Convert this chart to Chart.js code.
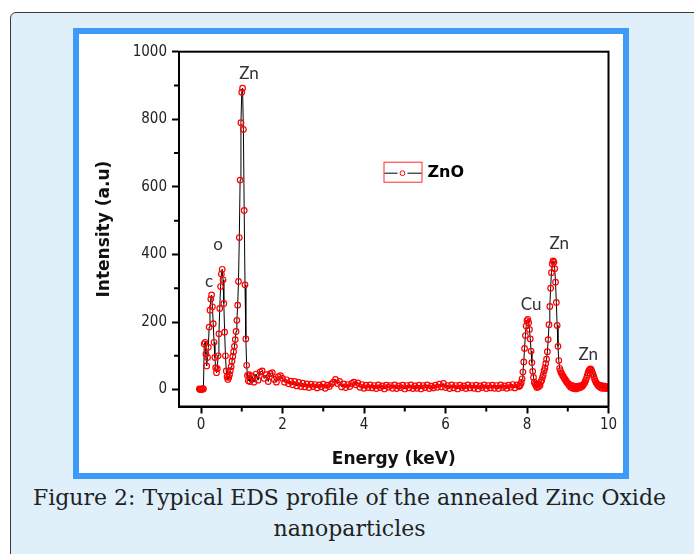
<!DOCTYPE html>
<html>
<head>
<meta charset="utf-8">
<script src="https://cdn.jsdelivr.net/npm/chart.js@4.4.0/dist/chart.umd.min.js"></script>
<style>
  html, body { margin: 0; padding: 0; width: 694px; height: 554px; overflow: hidden; background: #fff; }
  #panel { position: absolute; left: 10px; top: 12px; width: 720px; height: 580px; background: #dff0fb; border: 1.5px solid #3a3a3a; border-radius: 6px; }
  #frame { position: absolute; left: 73px; top: 28px; width: 544px; height: 439px; border: 6px solid #3d9bf7; background: #fff; }
  #frame canvas { display: block; }
  #caption { position: absolute; left: 0; top: 482px; width: 699px; text-align: center; font-family: "DejaVu Serif", serif; font-size: 22px; line-height: 31px; color: #222; }
</style>
</head>
<body>
<div id="panel"></div>
<div id="frame"><canvas id="eds" width="544" height="439"></canvas></div>
<div id="caption">Figure 2: Typical EDS profile of the annealed Zinc Oxide<br>nanoparticles</div>
<script>
// C, O and Zn L region
const energyLow = [-0.04, -0.02, 0.00, 0.02, 0.04, 0.06, 0.08, 0.10, 0.12, 0.14, 0.16, 0.18, 0.20, 0.22, 0.24, 0.26, 0.28, 0.30, 0.32, 0.34,
  0.36, 0.38, 0.40, 0.42, 0.44, 0.46, 0.48, 0.50, 0.52, 0.54, 0.56, 0.58, 0.60, 0.62, 0.64, 0.66, 0.68, 0.70, 0.72, 0.74,
  0.76, 0.78, 0.80, 0.82, 0.84, 0.86, 0.88, 0.90, 0.92, 0.94, 0.96, 0.98, 1.00, 1.02, 1.04, 1.06, 1.08, 1.10, 1.12, 1.14,
  1.16, 1.18, 1.20];
const countsLow = [2, 0, 1, 0, 3, 2, 135, 140, 105, 70, 95, 125, 185, 235, 268, 280, 245, 195, 140, 95,
  65, 50, 62, 100, 165, 240, 305, 342, 356, 325, 255, 170, 100, 55, 38, 30, 36, 44, 56, 68,
  84, 98, 112, 128, 148, 172, 205, 250, 320, 450, 620, 790, 880, 892, 770, 530, 310, 150, 72, 42,
  26, 44, 24];

// background between the peaks
const energyMid = [1.25, 1.30, 1.35, 1.40, 1.45, 1.50, 1.55, 1.60, 1.65, 1.70, 1.75, 1.80, 1.85, 1.90, 1.95, 2.00, 2.05, 2.10, 2.15, 2.20,
  2.25, 2.30, 2.35, 2.40, 2.45, 2.50, 2.55, 2.60, 2.65, 2.70, 2.75, 2.80, 2.85, 2.90, 2.95, 3.00, 3.05, 3.10, 3.15, 3.20,
  3.25, 3.30, 3.35, 3.40, 3.45, 3.50, 3.55, 3.60, 3.65, 3.70, 3.75, 3.80, 3.85, 3.90, 3.95, 4.00, 4.05, 4.10, 4.15, 4.20,
  4.25, 4.30, 4.35, 4.40, 4.45, 4.50, 4.55, 4.60, 4.65, 4.70, 4.75, 4.80, 4.85, 4.90, 4.95, 5.00, 5.05, 5.10, 5.15, 5.20,
  5.25, 5.30, 5.35, 5.40, 5.45, 5.50, 5.55, 5.60, 5.65, 5.70, 5.75, 5.80, 5.85, 5.90, 5.95, 6.00, 6.05, 6.10, 6.15, 6.20,
  6.25, 6.30, 6.35, 6.40, 6.45, 6.50, 6.55, 6.60, 6.65, 6.70, 6.75, 6.80, 6.85, 6.90, 6.95, 7.00, 7.05, 7.10, 7.15, 7.20,
  7.25, 7.30, 7.35, 7.40, 7.45, 7.50, 7.55, 7.60, 7.65, 7.70, 7.75, 7.80];
const countsMid = [40, 22, 46, 28, 52, 55, 33, 44, 24, 47, 50, 30, 22, 38, 41, 33, 22, 29, 17, 25,
  14, 24, 11, 21, 9, 19, 8, 17, 6, 16, 9, 15, 5, 14, 8, 16, 4, 13, 9, 17,
  22, 30, 18, 24, 8, 17, 6, 15, 9, 18, 22, 14, 20, 7, 15, 4, 13, 6, 14, 5,
  12, 3, 14, 6, 11, 2, 13, 7, 12, 4, 14, 3, 11, 6, 13, 2, 12, 5, 14, 3,
  11, 4, 13, 2, 12, 6, 14, 3, 10, 5, 13, 7, 16, 8, 18, 6, 12, 3, 14, 5,
  12, 2, 13, 6, 11, 3, 14, 5, 12, 4, 13, 2, 11, 6, 14, 3, 12, 5, 13, 4,
  12, 3, 14, 6, 11, 4, 13, 7, 15, 5, 14, 9];

// Cu K and Zn K region
const energyHigh = [7.82, 7.84, 7.86, 7.88, 7.90, 7.92, 7.94, 7.96, 7.98, 8.00, 8.02, 8.04, 8.06, 8.08, 8.10, 8.12, 8.14, 8.16, 8.18, 8.20,
  8.22, 8.24, 8.26, 8.28, 8.30, 8.32, 8.34, 8.36, 8.38, 8.40, 8.42, 8.44, 8.46, 8.48, 8.50, 8.52, 8.54, 8.56, 8.58, 8.60,
  8.62, 8.64, 8.66, 8.68, 8.70, 8.72, 8.74, 8.76, 8.78, 8.80, 8.82, 8.84, 8.86, 8.88, 8.90, 8.92, 8.94, 8.96, 8.98, 9.00,
  9.02, 9.04, 9.06, 9.08, 9.10, 9.12, 9.14, 9.16, 9.18, 9.20, 9.22, 9.24, 9.26, 9.28, 9.30, 9.32, 9.34, 9.36, 9.38, 9.40,
  9.42, 9.44, 9.46, 9.48, 9.50, 9.52, 9.54, 9.56, 9.58, 9.60, 9.62, 9.64, 9.66, 9.68, 9.70, 9.72, 9.74, 9.76, 9.78, 9.80,
  9.82, 9.84, 9.86, 9.88, 9.90, 9.92, 9.94, 9.96, 9.98, 10.00];
const countsHigh = [11, 15, 21, 32, 52, 82, 122, 160, 188, 204, 208, 198, 178, 150, 114, 80, 54, 36, 22, 16,
  12, 6, 15, 8, 17, 12, 23, 27, 36, 44, 56, 64, 77, 90, 112, 148, 192, 246, 300, 346,
  372, 381, 377, 358, 318, 258, 190, 128, 86, 63, 56, 49, 46, 40, 37, 32, 30, 25, 22, 18,
  17, 11, 14, 6, 12, 4, 11, 3, 9, 2, 8, 4, 10, 5, 11, 7, 12, 10, 14, 17,
  21, 27, 34, 42, 50, 56, 60, 61, 58, 52, 45, 38, 31, 25, 20, 16, 14, 10, 13, 6,
  12, 4, 11, 5, 10, 3, 9, 6, 4, 8];

const xMajorTicks = [0, 2, 4, 6, 8, 10];
const xMinorTicks = [1, 3, 5, 7, 9];
const yMajorTicks = [0, 200, 400, 600, 800, 1000];
const yMinorTicks = [100, 300, 500, 700, 900];

const peakLabels = ['Zn', 'o', 'c', 'Cu', 'Zn', 'Zn'];
const peakLabelX = [1.18, 0.42, 0.20, 8.10, 8.79, 9.50];
const peakLabelY = [935, 428, 319, 251, 431, 103];

const energy = energyLow.concat(energyMid, energyHigh);
const counts = countsLow.concat(countsMid, countsHigh);
const points = energy.map((e, i) => ({ x: e, y: counts[i] }));

const tickFont = { family: '"DejaVu Sans Condensed", "DejaVu Sans", sans-serif', size: 15 };
const titleFont = { family: '"DejaVu Sans", sans-serif', size: 17, weight: 'bold' };

// frame, minor ticks, peak names and the legend
const overlay = {
  id: 'overlay',
  afterDatasetsDraw(chart) {
    const { ctx, chartArea: a, scales: { x, y } } = chart;
    ctx.save();
    ctx.strokeStyle = '#000';
    ctx.lineWidth = 2;
    ctx.strokeRect(a.left, a.top, a.right - a.left, a.bottom - a.top);

    ctx.beginPath();
    xMinorTicks.forEach(v => {
      const px = x.getPixelForValue(v);
      ctx.moveTo(px, a.bottom);
      ctx.lineTo(px, a.bottom + 5);
    });
    yMinorTicks.forEach(v => {
      const py = y.getPixelForValue(v);
      ctx.moveTo(a.left, py);
      ctx.lineTo(a.left - 5, py);
    });
    ctx.stroke();

    ctx.font = '17px Lato';
    ctx.fillStyle = '#333';
    ctx.textAlign = 'center';
    ctx.textBaseline = 'middle';
    peakLabels.forEach((t, i) => {
      ctx.fillText(t, x.getPixelForValue(peakLabelX[i]), y.getPixelForValue(peakLabelY[i]));
    });

    // legend box
    const lx = a.left + 204.5, ly = a.top + 110;
    ctx.strokeStyle = '#ff2a2a';
    ctx.lineWidth = 1;
    ctx.strokeRect(lx + 0.5, ly + 0.5, 38, 20);
    ctx.strokeStyle = '#000';
    ctx.beginPath();
    ctx.moveTo(lx + 1, ly + 11.5); ctx.lineTo(lx + 14, ly + 11.5);
    ctx.moveTo(lx + 24, ly + 11.5); ctx.lineTo(lx + 38, ly + 11.5);
    ctx.stroke();
    ctx.strokeStyle = '#ff0000';
    ctx.beginPath();
    ctx.arc(lx + 19, ly + 11.5, 2.4, 0, Math.PI * 2);
    ctx.stroke();
    ctx.font = 'bold 16px "DejaVu Sans"';
    ctx.fillStyle = '#000';
    ctx.textAlign = 'left';
    ctx.fillText('ZnO', lx + 44, ly + 11);
    ctx.restore();
  }
};

new Chart(document.getElementById('eds'), {
  type: 'scatter',
  data: {
    datasets: [{
      label: 'ZnO',
      data: points,
      showLine: true,
      borderColor: '#000',
      borderWidth: 1,
      pointRadius: 2.8,
      pointBorderWidth: 1.2,
      pointBorderColor: '#ff0000',
      pointBackgroundColor: 'rgba(255,255,255,0)'
    }]
  },
  options: {
    responsive: false,
    animation: false,
    layout: { padding: { top: 17.7, right: 14.5, left: 0, bottom: 0 } },
    plugins: { legend: { display: false }, tooltip: { enabled: false } },
    scales: {
      x: {
        type: 'linear',
        min: -0.54,
        max: 10,
        afterBuildTicks: s => { s.ticks = xMajorTicks.map(v => ({ value: v })); },
        afterFit: s => { s.height = 66.5; },
        grid: { drawOnChartArea: false, drawTicks: true, tickLength: 7, tickWidth: 2, tickColor: '#000' },
        border: { display: true, width: 2, color: '#000' },
        ticks: { font: tickFont, color: '#222', padding: 3, maxRotation: 0, callback: v => String(v) },
        title: { display: true, text: 'Energy (keV)', font: titleFont, color: '#111', padding: { top: 0, bottom: 3 } }
      },
      y: {
        type: 'linear',
        min: -50,
        max: 1000,
        afterBuildTicks: s => { s.ticks = yMajorTicks.map(v => ({ value: v })); },
        afterFit: s => { s.width = 100; },
        grid: { drawOnChartArea: false, drawTicks: true, tickLength: 7, tickWidth: 2, tickColor: '#000' },
        border: { display: true, width: 2, color: '#000' },
        ticks: { font: tickFont, color: '#222', padding: 5, callback: v => String(v) },
        title: { display: true, text: 'Intensity (a.u)', font: titleFont, color: '#111', padding: { top: 15, bottom: 0 } }
      }
    }
  },
  plugins: [overlay]
});
</script>
</body>
</html>
